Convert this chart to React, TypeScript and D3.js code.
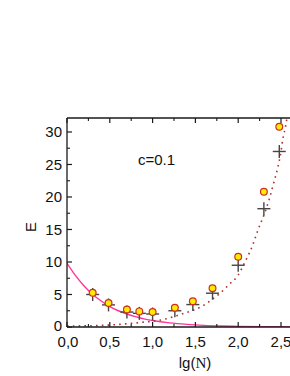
import React from "react";
import * as d3 from "d3";

const lgN = [0.30, 0.485, 0.70, 0.845, 1.0, 1.26, 1.47, 1.70, 2.0, 2.30, 2.48];
const circleE = [5.25, 3.7, 2.7, 2.4, 2.3, 2.95, 3.95, 5.95, 10.8, 20.8, 30.8];
const crossE = [5.0, 3.4, 2.3, 2.1, 2.0, 2.5, 3.45, 5.2, 9.5, 18.2, 27.0];

const pinkX = [0, 0.1, 0.2, 0.3, 0.4, 0.5, 0.6, 0.7, 0.8, 0.9, 1.0, 1.2, 1.4, 1.6, 1.8, 2.0, 2.3, 2.7];
const pinkE = [9.8, 7.9, 6.3, 5.0, 4.0, 3.15, 2.5, 2.0, 1.6, 1.25, 1.0, 0.63, 0.4, 0.25, 0.16, 0.1, 0.05, 0.02];

const dotX = [0, 0.3, 0.5, 0.7, 0.9, 1.05, 1.2, 1.32, 1.46, 1.58, 1.68, 1.79, 1.89, 1.99, 2.09, 2.17, 2.23, 2.3, 2.37, 2.42, 2.46, 2.5, 2.52, 2.555, 2.58];
const dotE = [0.15, 0.2, 0.3, 0.5, 0.75, 0.97, 1.4, 1.9, 2.5, 3.2, 4.1, 5.2, 6.5, 7.8, 10.3, 12.6, 14.9, 17.2, 20, 22.4, 24.4, 27, 28.8, 31, 33];

const xMajor = [0, 0.5, 1.0, 1.5, 2.0, 2.5];
const xMinor = [0.25, 0.75, 1.25, 1.75, 2.25, 2.75];
const yMajor = [0, 5, 10, 15, 20, 25, 30];
const yMinor = [2.5, 7.5, 12.5, 17.5, 22.5, 27.5];

export default function App() {
  const W = 290, H = 376;
  const left = 67, top = 118, bottom = 327;
  const x = d3.scaleLinear().domain([0, 2.75]).range([left, left + 2.75 * 85.6]);
  const y = d3.scaleLinear().domain([0, 32.15]).range([bottom, top]);
  const right = W + 5;

  const pinkLine = d3.line<number>().x((_, i) => x(pinkX[i])).y((d) => y(d)).curve(d3.curveMonotoneX)(pinkE) || "";
  const dotLine = d3.line<number>().x((_, i) => x(dotX[i])).y((d) => y(d)).curve(d3.curveMonotoneX)(dotE) || "";

  const font = "'Liberation Sans', Arial, sans-serif";
  const fmt = (v: number) => v.toFixed(1).replace(".", ",");
  const axisColor = "#1a1a1a";

  return (
    <div style={{ position: "fixed", left: 0, top: 0 }}>
      <svg width={W} height={H} style={{ display: "block", background: "#fff" }} fontFamily={font}>
        <defs>
          <clipPath id="plot">
            <rect x={left} y={top} width={right - left} height={bottom - top} />
          </clipPath>
        </defs>
        <g clipPath="url(#plot)">
          <path d={pinkLine} fill="none" stroke="#ff3399" strokeWidth={1.4} />
          <path d={dotLine} fill="none" stroke="#b0302a" strokeWidth={1.6} strokeDasharray="1.6 4.2" />
        </g>
        <line x1={left} x2={right} y1={bottom} y2={bottom} stroke={axisColor} strokeWidth={1.3} />
        <line x1={left} x2={right} y1={top} y2={top} stroke={axisColor} strokeWidth={1.3} />
        <line x1={left} x2={left} y1={top} y2={bottom} stroke={axisColor} strokeWidth={1.3} />
        {xMajor.map((v) => (
          <g key={"xM" + v}>
            <line x1={x(v)} x2={x(v)} y1={bottom} y2={bottom - 5} stroke={axisColor} strokeWidth={1.2} />
            <line x1={x(v)} x2={x(v)} y1={top} y2={top + 5} stroke={axisColor} strokeWidth={1.2} />
            <text x={x(v) + (v === 0 ? 1 : 0)} y={346.5} fontSize={15} textAnchor="middle" fill="#111">{fmt(v)}</text>
          </g>
        ))}
        {xMinor.map((v) => (
          <g key={"xm" + v}>
            <line x1={x(v)} x2={x(v)} y1={bottom} y2={bottom - 3} stroke={axisColor} strokeWidth={1.1} />
            <line x1={x(v)} x2={x(v)} y1={top} y2={top + 3} stroke={axisColor} strokeWidth={1.1} />
          </g>
        ))}
        {yMajor.map((v) => (
          <g key={"yM" + v}>
            <line x1={left} x2={left + 5} y1={y(v)} y2={y(v)} stroke={axisColor} strokeWidth={1.2} />
            <text x={62} y={y(v) - (v === 0 ? 1 : 0)} dy="0.36em" fontSize={15} textAnchor="end" fill="#111">{v}</text>
          </g>
        ))}
        {yMinor.map((v) => (
          <line key={"ym" + v} x1={left} x2={left + 3} y1={y(v)} y2={y(v)} stroke={axisColor} strokeWidth={1.1} />
        ))}
        {lgN.map((v, i) => (
          <g key={"c" + i} stroke="#454545" strokeWidth={1.4}>
            <line x1={x(v) - 6.5} x2={x(v) + 6.5} y1={y(crossE[i])} y2={y(crossE[i])} />
            <line x1={x(v)} x2={x(v)} y1={y(crossE[i]) - 6.5} y2={y(crossE[i]) + 6.5} />
          </g>
        ))}
        {lgN.map((v, i) => (
          <circle key={"o" + i} cx={x(v)} cy={y(circleE[i])} r={3.4} fill="#ffea00" stroke="#cc3020" strokeWidth={1.2} />
        ))}
        <text x={138} y={165} fontSize={15} fill="#111">c=0.1</text>
        <text transform="translate(36,227) rotate(-90)" fontSize={15} textAnchor="middle" fill="#111">E</text>
        <text x={195} y={368} fontSize={15} textAnchor="middle" fill="#111">
          lg(<tspan fontFamily="'Liberation Serif', 'DejaVu Serif', serif">N</tspan>)
        </text>
      </svg>
    </div>
  );
}
